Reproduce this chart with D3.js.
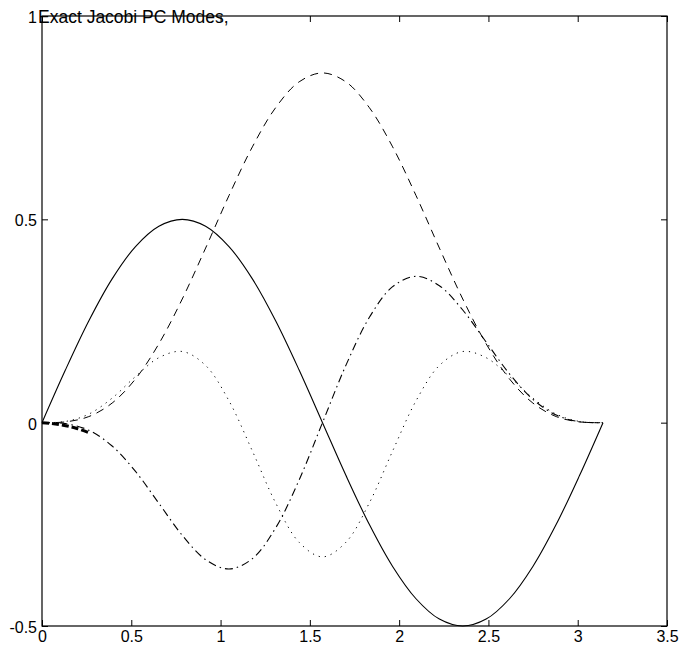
<!DOCTYPE html>
<html>
<head>
<meta charset="utf-8">
<script src="https://cdn.jsdelivr.net/npm/d3@7"></script>
<style>
  html, body { margin: 0; padding: 0; background: #fff; }
  svg { display: block; }
  text { font-family: "Liberation Sans", Arial, Helvetica, sans-serif; fill: #000; }
</style>
</head>
<body>
<svg id="chart" width="680" height="647"></svg>
<script>
// Sample positions along the interval [0, pi]
const theta = [0, 0.1309, 0.2618, 0.3927, 0.5236, 0.6545, 0.7854, 0.9163, 1.0472,
  1.1781, 1.3090, 1.4399, 1.5708, 1.7017, 1.8326, 1.9635, 2.0944, 2.2253, 2.3562,
  2.4871, 2.6180, 2.7489, 2.8798, 3.0107, 3.1416];

// Mode 1 (solid)
const modeSolid = [0, 0.1294, 0.25, 0.3536, 0.4330, 0.4830, 0.5, 0.4830, 0.4330,
  0.3536, 0.25, 0.1294, 0, -0.1294, -0.25, -0.3536, -0.4330, -0.4830, -0.5,
  -0.4830, -0.4330, -0.3536, -0.25, -0.1294, 0];

// Mode 2 (dashed)
const modeDashed = [0, 0.0019, 0.0149, 0.0482, 0.1075, 0.1940, 0.3041, 0.4294, 0.5586,
  0.6782, 0.7750, 0.8381, 0.86, 0.8381, 0.7750, 0.6782, 0.5586, 0.4294, 0.3041,
  0.1940, 0.1075, 0.0482, 0.0149, 0.0019, 0];

// Mode 3 (dash-dot)
const modeDashDot = [0, -0.0024, -0.0186, -0.0574, -0.1199, -0.1983, -0.2770, -0.3368,
  -0.3598, -0.3344, -0.2584, -0.1409, 0, 0.1409, 0.2584, 0.3344, 0.3598, 0.3368,
  0.2770, 0.1983, 0.1199, 0.0574, 0.0186, 0.0024, 0];

// Mode 4 (dotted)
const modeDotted = [0, 0.0029, 0.0210, 0.0604, 0.1134, 0.1598, 0.1750, 0.1406, 0.0536,
  -0.0697, -0.1978, -0.2942, -0.33, -0.2942, -0.1978, -0.0697, 0.0536, 0.1406,
  0.1750, 0.1598, 0.1134, 0.0604, 0.0210, 0.0029, 0];

// Higher modes bunched near zero at the left end
const nearZeroX = [0, 0.05, 0.10, 0.15, 0.20, 0.27];
const nearZeroY = [0, -0.002, -0.005, -0.009, -0.015, -0.026];

// Axis ticks
const xTicks = [0, 0.5, 1, 1.5, 2, 2.5, 3, 3.5];
const xTickLabels = ["0", "0.5", "1", "1.5", "2", "2.5", "3", "3.5"];
const yTicks = [-0.5, 0, 0.5, 1];
const yTickLabels = ["-0.5", "0", "0.5", "1"];

const titleText = "Exact Jacobi PC Modes,";

const svg = d3.select("#chart");
const plotLeft = 42, plotRight = 667, plotTop = 16, plotBottom = 626;

const x = d3.scaleLinear().domain([0, 3.5]).range([plotLeft, plotRight]);
const y = d3.scaleLinear().domain([-0.5, 1]).range([plotBottom, plotTop]);

const tickLen = 6;
const labelSize = 16;

// Bottom axis with inward ticks
svg.append("g")
  .attr("transform", `translate(0,${plotBottom})`)
  .call(d3.axisBottom(x).tickValues(xTicks).tickFormat((d, i) => xTickLabels[i])
    .tickSizeInner(-tickLen).tickSizeOuter(0).tickPadding(5))
  .call(g => g.select(".domain").remove())
  .call(g => g.selectAll("text").attr("font-size", labelSize).attr("font-family", null));

// Top axis, ticks only
svg.append("g")
  .attr("transform", `translate(0,${plotTop})`)
  .call(d3.axisTop(x).tickValues(xTicks).tickFormat("")
    .tickSizeInner(-tickLen).tickSizeOuter(0))
  .call(g => g.select(".domain").remove());

// Left axis with inward ticks
svg.append("g")
  .attr("transform", `translate(${plotLeft},0)`)
  .call(d3.axisLeft(y).tickValues(yTicks).tickFormat((d, i) => yTickLabels[i])
    .tickSizeInner(-tickLen).tickSizeOuter(0).tickPadding(5))
  .call(g => g.select(".domain").remove())
  .call(g => g.selectAll("text").attr("font-size", labelSize).attr("font-family", null).attr("dy", "0.4em"));

// Right axis, ticks only
svg.append("g")
  .attr("transform", `translate(${plotRight},0)`)
  .call(d3.axisRight(y).tickValues(yTicks).tickFormat("")
    .tickSizeInner(-tickLen).tickSizeOuter(0))
  .call(g => g.select(".domain").remove());

svg.selectAll(".tick line").attr("stroke", "#000").attr("stroke-width", 1);

// Frame
svg.append("rect")
  .attr("x", plotLeft).attr("y", plotTop)
  .attr("width", plotRight - plotLeft).attr("height", plotBottom - plotTop)
  .attr("fill", "none").attr("stroke", "#000").attr("stroke-width", 1.2);

const line = d3.line()
  .x(d => x(d[0]))
  .y(d => y(d[1]))
  .curve(d3.curveCatmullRom.alpha(0.5));

const series = [
  { values: modeSolid, dash: null, width: 1.1 },
  { values: modeDashed, dash: "8,6", width: 1 },
  { values: modeDashDot, dash: "8,4,1.5,4", width: 1.1 },
  { values: modeDotted, dash: "1.2,5", width: 1 }
];

svg.append("g").selectAll("path")
  .data(series)
  .join("path")
  .attr("d", s => line(theta.map((t, i) => [t, s.values[i]])))
  .attr("fill", "none")
  .attr("stroke", "#000")
  .attr("stroke-width", s => s.width)
  .attr("stroke-dasharray", s => s.dash);

svg.append("path")
  .attr("d", line(nearZeroX.map((t, i) => [t, nearZeroY[i]])))
  .attr("fill", "none")
  .attr("stroke", "#000")
  .attr("stroke-width", 3)
  .attr("stroke-dasharray", "7,3");

// Title text sitting on the top edge
svg.append("text")
  .attr("x", plotLeft - 4)
  .attr("y", y(1))
  .attr("dy", "0.4em")
  .attr("font-size", 17.5)
  .text(titleText);
</script>
</body>
</html>
